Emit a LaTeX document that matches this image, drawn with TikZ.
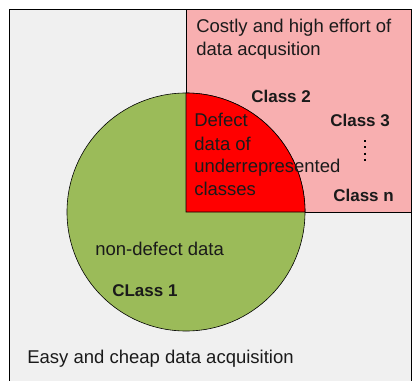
\documentclass[tikz,border=0pt]{standalone}
\usepackage{fontspec}
\setmainfont{Liberation Sans}
\usetikzlibrary{positioning}
\definecolor{bgGray}{HTML}{F0F0F0}
\definecolor{costPink}{HTML}{F8AFB0}
\definecolor{okGreen}{HTML}{9BBB59}
\definecolor{defRed}{HTML}{FF0000}
\definecolor{txtGray}{HTML}{1A1A1A}

\begin{document}
\begin{tikzpicture}[x=1pt,y=-1pt,semithick,
                    every node/.style={inner sep=0pt,anchor=base west,text=txtGray}]
  \tikzstyle{plain}=[font=\fontsize{18.5}{23}\selectfont]
  \tikzstyle{cls}=[font=\fontsize{17}{20}\selectfont\bfseries]
  \useasboundingbox (0,0) rectangle (412,380);

  % areas
  \draw[fill=bgGray]   (9.5,9.5) rectangle (411,400);
  \draw[fill=costPink] (186,9.5) rectangle (411,212);
  \draw[fill=okGreen]  (186,212) circle[radius=119pt];
  \draw[fill=defRed]   (186,212) -- (186,93) arc[start angle=90,end angle=0,radius=119pt] -- cycle;

  % costly side
  \node[plain] (cost1) at (196,32)  {Costly and high effort of};
  \node[plain] (cost2) at (196,55)  {data acqusition};
  \node[cls]   (c2)    at (251,102) {Class 2};
  \node[cls]   (c3)    at (330,126.5) {Class 3};
  \node[cls]   (cn)    at (333,201.5) {Class n};
  \coordinate (dtop) at (364.5,140);
  \coordinate (dbot) at (364.5,162);
  \draw[line width=2pt,dash pattern=on 2pt off 4.3pt] (dtop) -- (dbot);

  % defect quarter
  \node[plain] (d1) at (194,126.7) {Defect};
  \node[plain] (d2) at (194,150)   {data of};
  \node[plain] (d3) at (194,172)   {underrepresented};
  \node[plain] (d4) at (194,195)   {classes};

  % cheap side
  \node[plain] (nd)   at (95,255.7)  {non-defect data};
  \node[cls]   (c1)   at (112,296.7) {CLass 1};
  \node[plain] (easy) at (27,363.3)  {Easy and cheap data acquisition};
\end{tikzpicture}
\end{document}
